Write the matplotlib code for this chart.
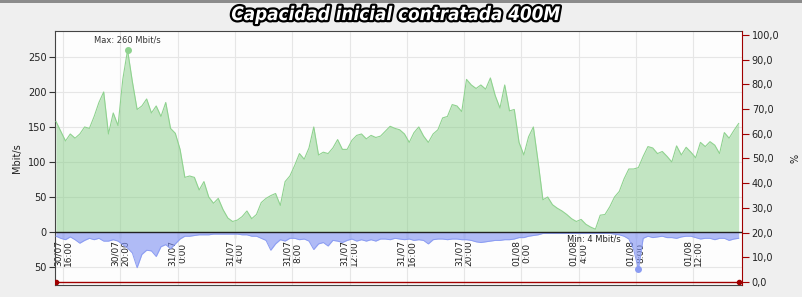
import matplotlib
matplotlib.use('Agg')
import matplotlib.pyplot as plt
import matplotlib.patheffects as pe
from matplotlib.patches import Rectangle
import numpy as np
import pandas as pd

plt.rcParams['font.family'] = ['DejaVu Sans']

# incoming traffic (Mbit/s), one sample every 20 min from 30/07 15:30
entrada = [158, 144, 130, 140, 134, 140, 150, 148, 165, 185, 200, 140, 170, 152, 218,
           260, 215, 175, 180, 190, 170, 180, 165, 185, 148, 141, 118, 78, 80, 78,
           60, 72, 50, 41, 48, 32, 20, 15, 17, 22, 30, 19, 25, 42, 48,
           52, 55, 38, 72, 80, 95, 112, 104, 120, 150, 110, 114, 112, 120, 132,
           118, 118, 131, 138, 140, 133, 138, 135, 137, 144, 151, 148, 146, 140, 128,
           142, 150, 137, 128, 140, 146, 163, 165, 182, 180, 172, 218, 210, 205, 210,
           204, 220, 195, 177, 210, 173, 175, 128, 110, 136, 150, 100, 46, 50, 39,
           34, 30, 25, 19, 15, 18, 11, 7, 4, 24, 25, 36, 50, 58, 76,
           90, 90, 92, 108, 122, 120, 112, 115, 108, 100, 123, 110, 121, 114, 106,
           128, 122, 129, 124, 112, 142, 134, 145, 155]

# outgoing traffic (Mbit/s), drawn below zero
salida = [6, 9, 11, 7, 11, 16, 12, 9, 11, 9, 13, 13, 11, 13, 18,
          23, 30, 51, 32, 26, 27, 35, 21, 18, 24, 17, 10, 6, 6, 5,
          4, 4, 4, 3, 3, 3, 3, 3, 3, 4, 4, 6, 6, 9, 12,
          26, 17, 11, 13, 9, 9, 11, 10, 13, 25, 17, 15, 20, 12, 13,
          15, 12, 10, 13, 11, 13, 11, 13, 10, 10, 11, 9, 10, 11, 10,
          12, 11, 12, 17, 11, 10, 10, 11, 10, 10, 11, 11, 12, 14, 15,
          14, 13, 12, 12, 11, 11, 10, 8, 8, 6, 5, 4, 2, 2, 2,
          2, 2, 2, 2, 2, 2, 2, 2, 2, 2, 2, 2, 3, 4, 6,
          10, 25, 53, 9, 6, 8, 7, 6, 8, 8, 9, 7, 6, 6, 8,
          10, 9, 9, 11, 9, 9, 12, 10, 9]

# utilisation (%)
porcentaje = [0] * len(entrada)

tick_labels = ['30/07\n16:00', '30/07\n20:00', '31/07\n0:00', '31/07\n4:00',
               '31/07\n8:00', '31/07\n12:00', '31/07\n16:00', '31/07\n20:00',
               '01/08\n0:00', '01/08\n4:00', '01/08\n8:00', '01/08\n12:00']

times = pd.date_range('2014-07-30 15:30', periods=len(entrada), freq='20min')
tick_times = pd.date_range('2014-07-30 16:00', periods=len(tick_labels), freq='4h')
entrada = np.array(entrada, dtype=float)
salida = -np.array(salida, dtype=float)

W, H = 803, 297
fig = plt.figure(figsize=(W / 100, H / 100), dpi=100, facecolor='#efefef')
fig.patches.append(Rectangle((0, 0.99), 1, 0.01, transform=fig.transFigure,
                             facecolor='#8c8c8c', edgecolor='none'))

ax = fig.add_axes([55 / W, 1 - 285 / H, 687 / W, 254 / H])
ax.set_facecolor('#fdfdfd')
ymin, ymax = -75.7, 287.1
ax.set_ylim(ymin, ymax)
ax.set_xlim(pd.Timestamp('2014-07-30 15:26'), pd.Timestamp('2014-08-01 15:24'))

ax.fill_between(times, 0, entrada, color='#82cc82', alpha=0.48, lw=0, zorder=2)
ax.plot(times, entrada, color='#8fd28f', lw=0.8, zorder=3)
ax.fill_between(times, 0, salida, color='#7d90f2', alpha=0.6, lw=0, zorder=2)
ax.plot(times, salida, color='#8b9cf2', lw=0.7, zorder=3)
ax.axhline(0, color='#222222', lw=1, zorder=4)

# max / min markers
i_max = int(np.argmax(entrada))
i_min = int(np.argmin(entrada))
i_out = int(np.argmin(salida))
ax.plot(times[i_max], entrada[i_max], 'o', color='#8fd28f', ms=4, zorder=5)
ax.annotate(f'Max: {entrada[i_max]:.0f} Mbit/s', (times[i_max], entrada[i_max]),
            xytext=(0, 4), textcoords='offset points', ha='center', va='bottom',
            fontsize=6, color='#333333')
ax.annotate(f'Min: {entrada[i_min]:.0f} Mbit/s', (times[i_min], entrada[i_min]),
            xytext=(-1, -4), textcoords='offset points', ha='center', va='top',
            fontsize=6, color='#222222', zorder=1)
ax.plot(times[i_out], salida[i_out], 'o', color='#8b9cf2', ms=4, zorder=5)

# grid and left axis
ax.set_xticks(tick_times)
ax.tick_params(axis='x', length=0, labelbottom=False)
ax.grid(True, color='#e6e6e6', lw=0.8, zorder=1)
ax.set_axisbelow(True)
ax.set_yticks([-50, 0, 50, 100, 150, 200, 250])
ax.set_yticklabels(['50', '0', '50', '100', '150', '200', '250'])
ax.tick_params(axis='y', labelsize=7, length=4, color='#333333', labelcolor='#222222', pad=2)
ax.set_ylabel('Mbit/s', fontsize=7, color='#222222', labelpad=4)
for side in ['left', 'top', 'bottom']:
    ax.spines[side].set_color('#444444')
ax.spines['right'].set_visible(False)

# time labels hang from the zero line
sec = ax.secondary_xaxis((0 - ymin) / (ymax - ymin))
sec.set_xticks(tick_times)
sec.set_xticklabels(tick_labels, rotation=90, fontsize=6.5, color='#222222')
for lab in sec.get_xticklabels():
    lab.set_multialignment('center')
sec.tick_params(length=4, color='#222222', pad=1.5)
sec.spines['bottom'].set_visible(False)

# right axis (%)
ax2 = ax.twinx()
ax2.set_ylim(-1.21, 101.6)
ax2.plot(times, porcentaje, color='#a00000', lw=1, marker='o', ms=3,
         markevery=[0, len(porcentaje) - 1], zorder=5)
ax2.set_yticks(np.arange(0, 101, 10))
ax2.set_yticklabels([f'{v:.1f}'.replace('.', ',') for v in np.arange(0, 101, 10)])
ax2.tick_params(axis='y', labelsize=7, length=5, color='#a00000', labelcolor='#222222', pad=2)
ax2.spines['right'].set_color('#a00000')
ax2.spines['left'].set_visible(False)
ax2.spines['top'].set_visible(False)
ax2.spines['bottom'].set_visible(False)
ax2.set_ylabel('%', fontsize=7, color='#222222', labelpad=8)

fig.text(0.493, 0.951, 'Capacidad inicial contratada 400M', ha='center', va='center',
         fontsize=13.5, fontweight='bold', fontstyle='italic', fontstretch='condensed',
         color='white', family=['DejaVu Sans'],
         path_effects=[pe.withStroke(linewidth=3.2, foreground='black')])

fig.savefig('out.png', dpi=100, facecolor=fig.get_facecolor())
